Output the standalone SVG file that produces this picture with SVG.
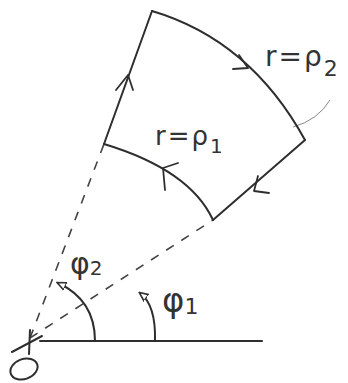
<svg xmlns="http://www.w3.org/2000/svg" width="348" height="383" viewBox="0 0 348 383">
<style>
.ln{fill:none;stroke:#2e2e2e;stroke-width:2;stroke-linecap:round;stroke-linejoin:round}
.dash{fill:none;stroke:#444;stroke-width:1.6;stroke-dasharray:9 9}
.thin{fill:none;stroke:#888;stroke-width:1}
.ah{fill:none;stroke:#2e2e2e;stroke-width:1.8;stroke-linecap:round;stroke-linejoin:round}
.t{font-family:"DejaVu Sans","Liberation Sans",sans-serif;fill:#333}
</style>
<defs>
<marker id="tri" viewBox="0 0 10 10" refX="8" refY="5" markerWidth="5" markerHeight="5" orient="auto">
<path d="M0,1 L9,5 L0,9 Z" fill="#fff" stroke="#333" stroke-width="1.6"/>
</marker>
</defs>
<rect width="348" height="383" fill="#fff"/>
<g id="connectors">
<path class="dash" d="M30,338 L104,144"/>
<path class="dash" d="M30,338 L213,220"/>
<path class="ln" d="M40,341 L262,341"/>
<path class="ln" d="M95,341 Q95,300 58,283" marker-end="url(#tri)"/>
<path class="ln" d="M155,341 Q156,305 140,293" marker-end="url(#tri)"/>
<path class="thin" d="M293,127 Q318,120 330,100"/>
</g>
<g id="region">
<path class="ln" d="M104,144 L152,11"/>
<path class="ln" d="M152,11 Q250,40 305,140"/>
<path class="ln" d="M305,140 L213,220"/>
<path class="ln" d="M104,144 Q190,170 213,220"/>
<path class="ah" d="M116,90 L128,75 L133,90"/>
<path class="ah" d="M233,69 L248,68 L239,55"/>
<path class="ah" d="M258,176 L254,191 L269,193"/>
<path class="ah" d="M178,163 L163,168 L165,190"/>
</g>
<g id="origin">
<path class="ln" d="M12,352 L42,336"/>
<path class="ln" d="M30,330 L29,354"/>
<ellipse cx="24" cy="369" rx="14" ry="10" transform="rotate(-20 24 369)" class="ln"/>
</g>
<g id="labels">
<text class="t" x="265" y="66" font-size="28" letter-spacing="2">r=ρ<tspan font-size="22" dy="10">2</tspan></text>
<text class="t" x="155" y="145" font-size="26" letter-spacing="2">r=ρ<tspan font-size="20" dy="8">1</tspan></text>
<text class="t" x="70" y="274" font-size="30">φ<tspan font-size="20" dy="1">2</tspan></text>
<text class="t" x="162" y="312" font-size="34">φ<tspan font-size="22" dy="2">1</tspan></text>
</g>
</svg>
